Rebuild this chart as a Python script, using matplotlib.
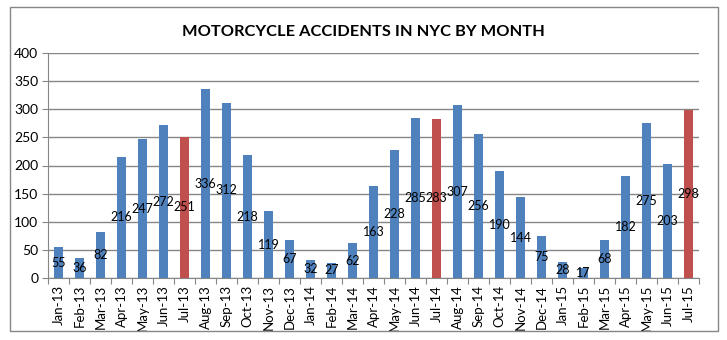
import matplotlib.pyplot as plt
from matplotlib.patches import Rectangle

months = ["Jan-13", "Feb-13", "Mar-13", "Apr-13", "May-13", "Jun-13", "Jul-13",
          "Aug-13", "Sep-13", "Oct-13", "Nov-13", "Dec-13",
          "Jan-14", "Feb-14", "Mar-14", "Apr-14", "May-14", "Jun-14", "Jul-14",
          "Aug-14", "Sep-14", "Oct-14", "Nov-14", "Dec-14",
          "Jan-15", "Feb-15", "Mar-15", "Apr-15", "May-15", "Jun-15", "Jul-15"]
accidents = [55, 36, 82, 216, 247, 272, 251, 336, 312, 218, 119, 67,
             32, 27, 62, 163, 228, 285, 283, 307, 256, 190, 144, 75,
             28, 17, 68, 182, 275, 203, 298]
highlight = ["Jul-13", "Jul-14", "Jul-15"]

BLUE = "#4F81BD"
RED = "#C0504D"

plt.rcParams["font.family"] = ["Lato", "DejaVu Sans"]

fig = plt.figure(figsize=(7.27, 3.40), dpi=100)
fig.patches.append(Rectangle((10 / 727, 1 - 331 / 340), 708 / 727, 324 / 340,
                             transform=fig.transFigure, fill=False,
                             edgecolor="#868686", linewidth=1))

ax = fig.add_axes([48 / 727, 1 - 278 / 340, 651 / 727, 225 / 340])

colors = [RED if m in highlight else BLUE for m in months]
x = range(len(months))
ax.bar(x, accidents, width=0.4, color=colors, zorder=3)

# data labels sit at the middle of each bar, like the Excel original
for i, v in enumerate(accidents):
    ax.text(i, v / 2, str(v), ha="center", va="center", fontsize=9, zorder=4)

ax.set_xlim(-0.5, len(months) - 0.5)
ax.set_ylim(0, 400)
ax.set_yticks(range(0, 401, 50))
ax.grid(axis="y", color="#868686", linewidth=1, zorder=0)

ax.set_xticks([i - 0.5 for i in range(len(months) + 1)], minor=False)
ax.set_xticklabels([])
ax.set_xticks(list(x), minor=True)
ax.set_xticklabels(months, minor=True, rotation=90, fontsize=9.5)
ax.tick_params(axis="x", which="minor", length=0, pad=5)
ax.tick_params(axis="x", which="major", length=4, color="#868686")
ax.tick_params(axis="y", length=4, color="#868686", labelsize=10, pad=3)

for side in ["top", "right"]:
    ax.spines[side].set_visible(False)
for side in ["left", "bottom"]:
    ax.spines[side].set_color("#868686")

fig.text(363 / 727, 1 - 32 / 340, "MOTORCYCLE ACCIDENTS IN NYC BY MONTH",
         ha="center", va="center", fontsize=11.8, fontweight="bold")

fig.savefig("out.png", dpi=100)
